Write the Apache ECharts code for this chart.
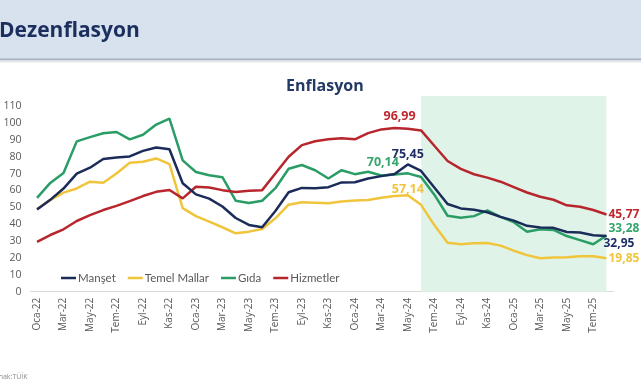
<!DOCTYPE html>
<html>
<head>
<meta charset="utf-8">
<script src="https://cdn.jsdelivr.net/npm/echarts@6/dist/echarts.min.js"></script>
<style>
  html, body { margin: 0; padding: 0; background: #ffffff; }
  #chart { width: 641px; height: 380px; }
</style>
</head>
<body>
<div id="chart"></div>
<script>
// Categories: Oca-22 .. Ağu-25
const months = ['Oca', 'Şub', 'Mar', 'Nis', 'May', 'Haz', 'Tem', 'Ağu', 'Eyl', 'Eki', 'Kas', 'Ara'];
const years = ['22', '23', '24', '25'];
const categories = [];
years.forEach(function (y) { months.forEach(function (m) { categories.push(m + '-' + y); }); });
categories.length = 44;

const manset = [
  48.69, 54.44, 61.14, 69.97, 73.50, 78.62, 79.60, 80.21, 83.45, 85.51, 84.39, 64.27,
  57.68, 55.18, 50.51, 43.68, 39.59, 38.21, 47.83, 58.94, 61.53, 61.36, 61.98, 64.77,
  64.86, 67.07, 68.50, 69.80, 75.45, 71.60, 61.78, 51.97, 49.38, 48.58, 47.09, 44.38,
  42.12, 39.05, 38.10, 37.86, 35.41, 35.05, 33.52, 32.95
];
const temelMallar = [
  49.0, 54.3, 58.7, 61.2, 65.2, 64.6, 70.1, 76.4, 77.0, 79.0, 75.6, 49.5,
  44.8, 41.5, 38.2, 34.6, 35.6, 37.2, 43.5, 51.6, 53.0, 52.7, 52.4, 53.4,
  54.0, 54.4, 55.7, 56.7, 57.14, 51.5, 39.5, 29.0, 28.1, 28.7, 28.9, 27.3,
  24.3, 21.7, 19.8, 20.2, 20.4, 21.0, 21.0, 19.85
];
const gida = [
  55.61, 64.47, 70.33, 89.10, 91.63, 93.93, 94.65, 90.25, 93.05, 99.05, 102.55, 77.87,
  70.97, 69.00, 67.89, 53.92, 52.52, 53.92, 61.36, 72.89, 75.12, 72.00, 67.13, 72.03,
  69.67, 71.12, 68.9, 69.5, 70.14, 68.0, 57.5, 45.0, 43.8, 44.8, 48.2, 44.4,
  41.2, 35.5, 37.0, 36.6, 33.0, 30.6, 28.1, 33.28
];
const hizmetler = [
  29.6, 33.6, 37.0, 41.9, 45.4, 48.4, 50.9, 53.7, 56.7, 59.2, 60.3, 55.3,
  62.2, 61.8, 60.2, 59.1, 59.8, 60.2, 70.1, 80.0, 86.9, 89.2, 90.4, 91.0,
  90.3, 94.0, 96.2, 96.99, 96.6, 95.6, 86.5, 77.5, 72.8, 69.6, 67.6, 65.2,
  62.0, 58.8, 56.3, 54.5, 51.2, 50.4, 48.4, 45.77
];
const seriesNames = ['Manşet', 'Temel Mallar', 'Gıda', 'Hizmetler'];
const yTicks = [0, 10, 20, 30, 40, 50, 60, 70, 80, 90, 100, 110];
const shadeStart = 'Haz-24';
const shadeEnd = 'Ağu-25';

const colors = ['#1b2b5a', '#f0c53c', '#2a9d66', '#b8262d'];
const labelColors = ['#1f2f66', '#f0c53c', '#35a56c', '#c0282f'];

function fmt(p) { return String(p.value).replace('.', ','); }

function build(values, colorIdx, labels) {
  return values.map(function (v, i) {
    const l = labels[i];
    if (!l) return v;
    return {
      value: v,
      label: {
        show: true,
        position: l.position,
        offset: l.offset || [0, 0],
        distance: l.distance != null ? l.distance : 5,
        formatter: fmt,
        color: labelColors[colorIdx],
        fontFamily: 'Open Sans',
        fontWeight: 'bold',
        fontSize: l.size || 12.5
      }
    };
  });
}

const last = 43;
const mansetLabels = {}; mansetLabels[28] = { position: 'top', offset: [0, 2] }; mansetLabels[last] = { position: 'right', offset: [-5, 7], distance: 2, size: 12 };
const temelLabels = {}; temelLabels[28] = { position: 'top', offset: [0, 6] }; temelLabels[last] = { position: 'right', distance: 2, size: 12 };
const gidaLabels = {}; gidaLabels[28] = { position: 'top', offset: [-25, 1] }; gidaLabels[last] = { position: 'right', offset: [0, -7], distance: 2, size: 12 };
const hizLabels = {}; hizLabels[27] = { position: 'top', offset: [5, 0] }; hizLabels[last] = { position: 'right', distance: 2, size: 12 };

const chart = echarts.init(document.getElementById('chart'), null, { renderer: 'canvas' });

const lineSeries = [
  [manset, mansetLabels],
  [temelMallar, temelLabels],
  [gida, gidaLabels],
  [hizmetler, hizLabels]
].map(function (pair, k) {
  return {
    name: seriesNames[k],
    type: 'line',
    data: build(pair[0], k, pair[1]),
    symbol: 'circle',
    symbolSize: 0.01,
    showSymbol: true,
    showAllSymbol: true,
    smooth: false,
    lineStyle: { width: 2.5, color: colors[k] },
    itemStyle: { color: colors[k], opacity: 1 },
    z: 3
  };
});
lineSeries[0].z = 4;
lineSeries[0].markArea = {
  silent: true,
  itemStyle: { color: '#e0f3e8' },
  data: [[{ xAxis: shadeStart }, { xAxis: shadeEnd }]]
};

chart.setOption({
  animation: false,
  backgroundColor: '#ffffff',
  graphic: [
    { type: 'rect', shape: { x: 0, y: 0, width: 641, height: 59 }, style: { fill: '#d8e1ee' }, z: -10 },
    { type: 'line', shape: { x1: 0, y1: 59.5, x2: 641, y2: 59.5 }, style: { stroke: '#a9b2c0', lineWidth: 2 }, z: -9 },
    { type: 'line', shape: { x1: 0, y1: 61.5, x2: 641, y2: 61.5 }, style: { stroke: '#e3e6ea', lineWidth: 2 }, z: -9 }
  ],
  title: [
    {
      text: 'Dezenflasyon',
      left: -6, top: 16,
      textStyle: { fontFamily: 'Open Sans', fontWeight: 'bold', fontSize: 21, color: '#1b2f5e' }
    },
    {
      text: 'Enflasyon',
      left: 281, top: 73,
      textStyle: { fontFamily: 'Open Sans', fontWeight: 'bold', fontSize: 16, color: '#243a66' }
    },
    {
      text: 'Kaynak:TÜİK',
      left: -18, top: 368,
      textStyle: { fontFamily: 'Open Sans', fontWeight: 'normal', fontSize: 7, color: '#8a8a8a' }
    }
  ],
  legend: {
    data: seriesNames,
    left: 56, top: 267,
    icon: 'rect',
    itemWidth: 15, itemHeight: 2.5,
    itemGap: 12,
    textStyle: { fontFamily: 'Lato', fontSize: 11.5, color: '#595959', padding: [0, 0, 0, -3] }
  },
  grid: { left: 30.4, right: 27.9, top: 96, bottom: 88.3, containLabel: false },
  xAxis: {
    type: 'category',
    data: categories,
    boundaryGap: true,
    axisLine: { show: true, lineStyle: { color: '#d9d9d9', width: 1 } },
    axisTick: { show: false },
    axisLabel: {
      interval: 1, rotate: 90, margin: 6,
      fontFamily: 'Open Sans', fontSize: 10, color: '#595959'
    },
    splitLine: { show: false }
  },
  yAxis: {
    type: 'value',
    min: yTicks[0], max: 116, interval: yTicks[1] - yTicks[0],
    axisLine: { show: false },
    axisTick: { show: false },
    splitLine: { show: false },
    axisLabel: {
      showMaxLabel: false, margin: 9,
      fontFamily: 'Open Sans', fontSize: 10.5, color: '#595959',
      formatter: function (v) { return yTicks.indexOf(v) >= 0 ? String(v) : ''; }
    }
  },
  series: lineSeries
});
</script>
</body>
</html>
